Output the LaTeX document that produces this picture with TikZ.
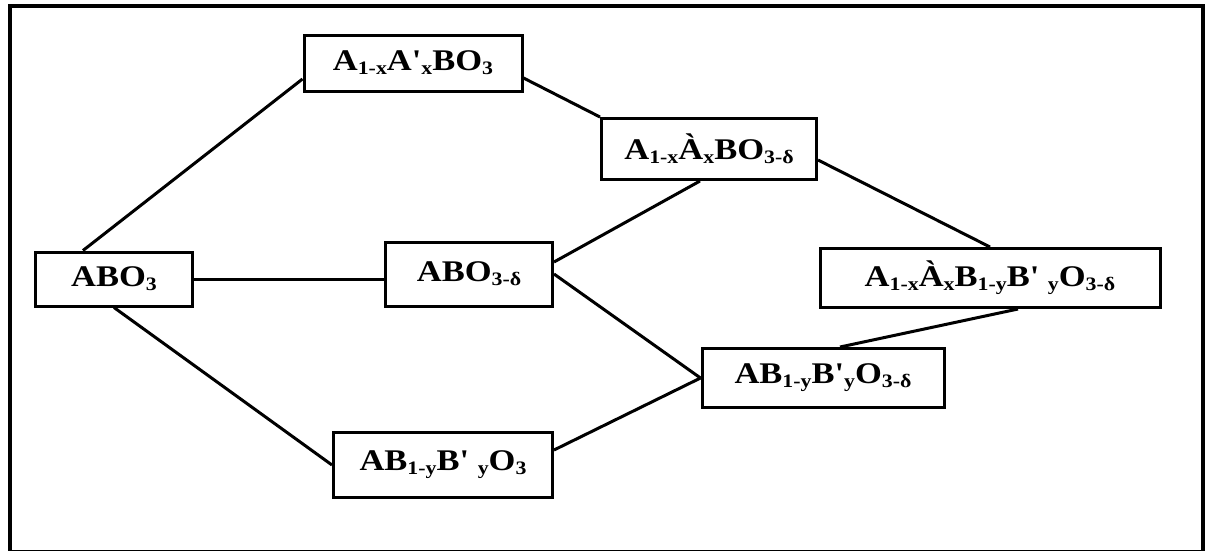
\documentclass[tikz,border=0pt]{standalone}
\usepackage{fontspec}
\newfontfamily\chemfont{Liberation Serif}[FakeStretch=1.15]
\usetikzlibrary{positioning}
\newcommand{\sub}[1]{\raisebox{-0.3ex}{\fontsize{19}{19}\selectfont #1}}
\tikzset{
  phase/.style={draw, rectangle, line width=3pt, fill=white, inner sep=0pt,
    font=\chemfont\bfseries\fontsize{30}{34}\selectfont},
  link/.style={line width=3pt}
}
\begin{document}
\begin{tikzpicture}[x=1pt, y=-1pt]
		\useasboundingbox (0,0) rectangle (1206,550);
		\begin{scope}
		\clip (0,0) rectangle (1206,550);
		\draw[line width=3.2pt] (10,6) rectangle (1203,551.8);
		\end{scope}

		% Nodes
		\node[phase, minimum width=218pt, minimum height=56pt] (asub) at (413,63) {A\sub{1-x}A'\sub{x}BO\sub{3}};
		\node[phase, minimum width=215pt, minimum height=61pt] (asubd) at (709,149) {A\sub{1-x}À\sub{x}BO\sub{3-δ}};
		\node[phase, minimum width=157pt, minimum height=54pt] (abo) at (114,279) {ABO\sub{3}};
		\node[phase, minimum width=167pt, minimum height=64pt] (abod) at (469,274) {ABO\sub{3-δ}};
		\node[phase, minimum width=340pt, minimum height=59pt] (abbd) at (990,278) {A\sub{1-x}À\sub{x}B\sub{1-y}B' \sub{y}O\sub{3-δ}};
		\node[phase, minimum width=242pt, minimum height=59pt] (bsubd) at (823,378) {AB\sub{1-y}B'\sub{y}O\sub{3-δ}};
		\node[phase, minimum width=219pt, minimum height=65pt] (bsub) at (443,465) {AB\sub{1-y}B' \sub{y}O\sub{3}};

		% Links
		\draw[link] ([xshift=-31pt]abo.north) -- ([yshift=-16pt]asub.west);
		\draw[link] ([yshift=-15pt]asub.east) -- (asubd.north west);
		\draw[link] ([yshift=-11pt]asubd.east) -- (abbd.north);
		\draw[link] (abo.east) -- (abod.west |- abo.east);
		\draw[link] ([yshift=12pt]abod.east) -- ([xshift=-9pt]asubd.south);
		\draw[link] (abod.east) -- (bsubd.west);
		\draw[link] (abo.south) -- (bsub.west);
		\draw[link] ([yshift=15pt]bsub.east) -- (bsubd.west);
		\draw[link] ([xshift=17pt]bsubd.north) -- ([xshift=28pt]abbd.south);
	\end{tikzpicture}
\end{document}
